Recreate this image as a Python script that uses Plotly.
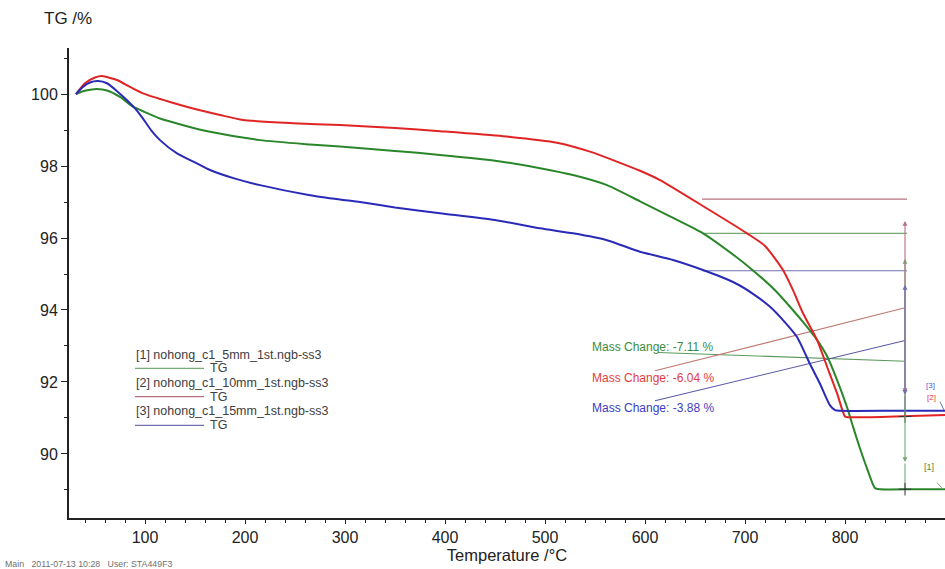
import plotly.graph_objects as go

# --- TG curves (temperature in °C, mass in %) ---
t_5mm = [31, 38, 45, 52, 62, 75, 88, 100, 115, 140, 165, 215, 265, 295, 350, 395, 450, 495,
         528, 562, 595, 625, 658, 690, 708, 730, 745, 760, 772, 782, 792, 802, 808, 815, 822,
         830, 835, 870, 900]
tg_5mm = [100.0, 100.08, 100.12, 100.14, 100.1, 99.92, 99.65, 99.5, 99.32, 99.12, 98.95, 98.72,
          98.6, 98.54, 98.42, 98.31, 98.15, 97.94, 97.75, 97.47, 97.02, 96.6, 96.13, 95.5, 95.1,
          94.55, 94.09, 93.6, 93.17, 92.72, 92.06, 91.3, 90.76, 90.15, 89.6, 89.05, 89.02, 89.02,
          89.02]

t_10mm = [31, 40, 50, 57, 72, 85, 98, 125, 148, 175, 198, 248, 295, 350, 395, 458, 512, 545,
          595, 615, 662, 702, 720, 738, 748, 758, 772, 782, 792, 800, 803, 850, 900]
tg_10mm = [100.0, 100.3, 100.46, 100.5, 100.39, 100.2, 100.02, 99.78, 99.6, 99.42, 99.28, 99.19,
           99.14, 99.06, 98.97, 98.83, 98.65, 98.4, 97.87, 97.61, 96.82, 96.13, 95.78, 95.11,
           94.55, 93.91, 93.17, 92.43, 91.69, 91.04, 91.02, 91.04, 91.08]

t_15mm = [31, 38, 45, 53, 62, 72, 82, 90, 98, 106, 115, 132, 150, 165, 190, 215, 265, 295, 315,
          350, 395, 450, 495, 528, 562, 595, 628, 658, 690, 708, 725, 738, 752, 765, 775, 785,
          790, 795, 850, 900]
tg_15mm = [100.0, 100.2, 100.32, 100.36, 100.3, 100.08, 99.83, 99.6, 99.32, 99.0, 98.72, 98.35,
           98.1, 97.89, 97.65, 97.47, 97.19, 97.07, 97.0, 96.85, 96.69, 96.5, 96.27, 96.13, 95.94,
           95.62, 95.39, 95.11, 94.75, 94.45, 94.09, 93.72, 93.25, 92.5, 91.95, 91.35, 91.22,
           91.2, 91.2, 91.2]

# --- mass-change evaluation (order: 5 mm, 10 mm, 15 mm) ---
step_start = 657
step_end = 862
step_at = 860
step_top = [96.13, 97.08, 95.09]
mass_change = [-7.11, -6.04, -3.88]
label_text_y = [92.98, 92.10, 91.27]
leader_start = [(613, 92.82), (610, 92.31), (610, 91.48)]

sample_names = ["[1] nohong_c1_5mm_1st.ngb-ss3",
                "[2] nohong_c1_10mm_1st.ngb-ss3",
                "[3] nohong_c1_15mm_1st.ngb-ss3"]

curve_colors = ["#2a862a", "#e02424", "#2a2ab8"]
step_colors = ["#72ac72", "#b87080", "#7070b0"]
leader_colors = ["#5c9a5c", "#c07a70", "#5a5aa8"]
text_colors = ["#3c8c3c", "#e43c3c", "#3c3cc4"]

x_major = [100, 200, 300, 400, 500, 600, 700, 800]
y_major = [90, 92, 94, 96, 98, 100]

FONT = "Liberation Sans, Arial, sans-serif"
W, H = 945, 569
L, R, T, B = 69, 0, 48, 51
X0, X1 = 24, 900
Y0, Y1 = 88.22, 101.28


def px(xp):
    return (xp - L) / (W - L - R)


def py(yp):
    return (H - B - yp) / (H - T - B)


fig = go.Figure()

curves = [(t_5mm, tg_5mm), (t_10mm, tg_10mm), (t_15mm, tg_15mm)]

# step evaluation: horizontal levels, leaders, vertical arrows
for i in range(3):
    top = step_top[i]
    bottom = round(top + mass_change[i], 2)
    span = abs(mass_change[i])
    tip_top = top - 0.1 * span
    tip_bot = bottom + 0.1 * span
    mid = (top + bottom) / 2

    fig.add_trace(go.Scatter(x=[step_start, step_end], y=[top, top], mode="lines",
                             line=dict(color=step_colors[i], width=1.2),
                             hoverinfo="skip", showlegend=False))
    fig.add_trace(go.Scatter(x=[leader_start[i][0], step_at], y=[leader_start[i][1], mid],
                             mode="lines", line=dict(color=leader_colors[i], width=1.1),
                             hoverinfo="skip", showlegend=False))
    fig.add_trace(go.Scatter(x=[step_at, step_at], y=[tip_bot, bottom], mode="lines",
                             line=dict(color=step_colors[i], width=1.1),
                             hoverinfo="skip", showlegend=False))
    fig.add_annotation(x=step_at, y=tip_top, ax=step_at, ay=tip_bot, axref="x", ayref="y",
                       xref="x", yref="y", text="", showarrow=True, arrowhead=2,
                       arrowside="end+start", arrowsize=0.9, arrowwidth=1.1,
                       arrowcolor=step_colors[i])
    fig.add_annotation(x=545, y=label_text_y[i], xref="x", yref="y", xanchor="left",
                       yanchor="middle", showarrow=False,
                       text=f"Mass Change: {mass_change[i]:.2f} %",
                       font=dict(family=FONT, size=12, color=text_colors[i]))

# TG curves
for i, (tx, ty) in enumerate(curves):
    fig.add_trace(go.Scatter(x=tx, y=ty, mode="lines",
                             line=dict(color=curve_colors[i], width=2,
                                       shape="spline", smoothing=0.6),
                             name=sample_names[i], showlegend=False))

# cross marks at the end levels
fig.add_trace(go.Scatter(x=[step_at, step_at],
                         y=[round(step_top[0] + mass_change[0], 2),
                            round(step_top[1] + mass_change[1], 2)],
                         mode="markers",
                         marker=dict(symbol="cross-thin", size=9,
                                     line=dict(color="#333333", width=1)),
                         hoverinfo="skip", showlegend=False))

# curve tags at the right edge
fig.add_trace(go.Scatter(x=[892, 898], y=[89.2, 89.02], mode="lines",
                         line=dict(color=step_colors[0], width=1), hoverinfo="skip",
                         showlegend=False))
fig.add_trace(go.Scatter(x=[895, 899], y=[91.45, 91.22], mode="lines",
                         line=dict(color=step_colors[2], width=1), hoverinfo="skip",
                         showlegend=False))
fig.add_annotation(x=px(936), y=py(474), xref="paper", yref="paper", text="[1]",
                   showarrow=False, font=dict(family=FONT, size=9, color=text_colors[0]))
fig.add_annotation(x=px(938), y=py(404), xref="paper", yref="paper", text="[2]",
                   showarrow=False, font=dict(family=FONT, size=8, color=text_colors[1]))
fig.add_annotation(x=px(937), y=py(392), xref="paper", yref="paper", text="[3]",
                   showarrow=False, font=dict(family=FONT, size=8, color="#5a5ad0"))

# sample key
key_text_y = [355, 382.7, 411]
key_line_y = [368.3, 396.7, 425.3]
for i in range(3):
    fig.add_annotation(x=px(134), y=py(key_text_y[i]), xref="paper", yref="paper",
                       xanchor="left", yanchor="middle", showarrow=False,
                       text=sample_names[i],
                       font=dict(family=FONT, size=12.5, color="#404040"))
    fig.add_shape(type="line", xref="paper", yref="paper",
                  x0=px(135), x1=px(204), y0=py(key_line_y[i]), y1=py(key_line_y[i]),
                  line=dict(color=step_colors[i], width=1.2))
    fig.add_annotation(x=px(208), y=py(key_line_y[i]), xref="paper", yref="paper",
                       xanchor="left", yanchor="middle", showarrow=False, text="TG",
                       font=dict(family=FONT, size=12.5, color="#404040"))

# axis titles and footer
fig.add_annotation(x=px(42), y=py(18), xref="paper", yref="paper", xanchor="left",
                   yanchor="middle", showarrow=False, text="TG /%",
                   font=dict(family=FONT, size=17, color="#222222"))
fig.add_annotation(x=px(3), y=py(564), xref="paper", yref="paper", xanchor="left",
                   yanchor="middle", showarrow=False,
                   text="Main&nbsp;&nbsp;&nbsp;2011-07-13 10:28&nbsp;&nbsp;&nbsp;User: STA449F3",
                   font=dict(family=FONT, size=8.8, color="#707070"))

fig.update_layout(
    width=W, height=H,
    margin=dict(l=L, r=R, t=T, b=B, pad=0),
    paper_bgcolor="white", plot_bgcolor="white",
    showlegend=False,
    xaxis=dict(range=[X0, X1], tickvals=x_major, ticks="outside", ticklen=4,
               tickwidth=1, tickcolor="#222222", showline=True, linecolor="#222222",
               linewidth=2, showgrid=False, zeroline=False,
               tickfont=dict(family=FONT, size=16, color="#222222"),
               minor=dict(tickvals=[v for v in range(40, 901, 20) if v % 100 != 0],
                          ticks="outside", ticklen=3, tickcolor="#222222"),
               title=dict(text="Temperature /°C", standoff=0,
                          font=dict(family=FONT, size=16.5, color="#222222"))),
    yaxis=dict(range=[Y0, Y1], tickvals=y_major, ticks="outside", ticklen=6,
               tickwidth=1, tickcolor="#222222", showline=True, linecolor="#222222",
               linewidth=2, showgrid=False, zeroline=False,
               tickfont=dict(family=FONT, size=16, color="#222222"),
               minor=dict(tickvals=[89, 91, 93, 95, 97, 99, 101], ticks="outside",
                          ticklen=3, tickcolor="#222222")),
)

fig.write_html("out.html")
